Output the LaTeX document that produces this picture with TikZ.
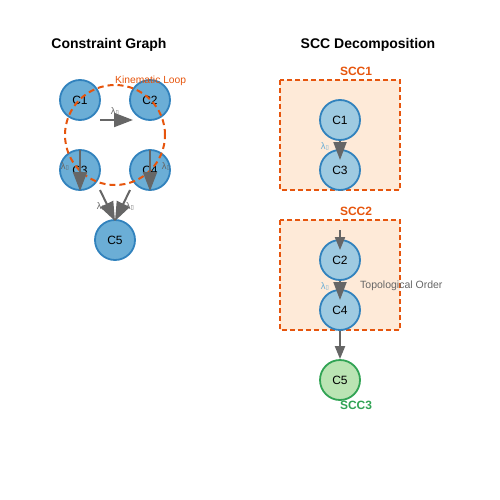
\documentclass[tikz,border=0pt]{standalone}
\usepackage{fontspec}
\setmainfont{Liberation Sans}
\newfontfamily\symfont{DejaVu Sans}
\usetikzlibrary{arrows.meta,calc}
\definecolor{nodeA}{HTML}{6BAED6}
\definecolor{nodeB}{HTML}{9ECAE1}
\definecolor{nodeStroke}{HTML}{3182BD}
\definecolor{loopOr}{HTML}{E6550D}
\definecolor{boxFill}{HTML}{FEEAD8}
\definecolor{grnFill}{HTML}{BAE4B3}
\definecolor{grnStroke}{HTML}{31A354}
\definecolor{arrGray}{HTML}{666666}
\newcommand{\lam}{λ{\symfont\fontsize{6}{6}\selectfont ▯}}
\begin{document}
\begin{tikzpicture}[x=1pt,y=-1pt,
  cnode/.style={circle,minimum size=40pt,inner sep=0pt,line width=1.8pt,draw=nodeStroke,font=\fontsize{12}{12}\selectfont},
  leftnode/.style={cnode,fill=nodeA},
  rightnode/.style={cnode,fill=nodeB},
  bigarr/.style={draw=arrGray,line width=2pt,-{Triangle[length=19pt,width=14pt]}},
  smallarr/.style={draw=arrGray,line width=2pt,-{Triangle[length=13pt,width=10pt]}},
  title/.style={font=\bfseries\fontsize{14}{14}\selectfont},
  lamlab/.style={font=\fontsize{9.5}{9.5}\selectfont,text=arrGray,inner sep=0pt},
  lamlabR/.style={font=\fontsize{9.5}{9.5}\selectfont,text=nodeA,inner sep=0pt},
  sccbox/.style={draw=loopOr,fill=boxFill,dashed,dash pattern=on 5pt off 3pt,line width=1.8pt},
  scclab/.style={font=\bfseries\fontsize{12}{12}\selectfont,text=loopOr}]
\useasboundingbox (0,0) rectangle (500,500);
% Left
\node[title] (t1) at (109,45) {Constraint Graph};
\node[leftnode] (C1) at (80,100) {C1};
\node[leftnode] (C2) at (150,100) {C2};
\node[leftnode] (C3) at (80,170) {C3};
\node[leftnode] (C4) at (150,170) {C4};
\node[leftnode] (C5) at (115,240) {C5};
\node[circle,minimum size=100pt,inner sep=0pt,draw=loopOr,dashed,dash pattern=on 6pt off 4pt,line width=2pt] (loop) at (115,135) {};
\node[font=\fontsize{10.3}{10.3}\selectfont,text=loopOr,anchor=west,inner sep=0pt] (kl) at (115,81) {Kinematic Loop};
\coordinate (a1) at ($(C1)+(20,20)$);
\coordinate (a2) at ($(C2)+(-17,20)$);
\draw[bigarr] (a1) -- (a2);
\coordinate (b1) at ($(C1)+(0,50)$);
\coordinate (b2) at ($(C3)+(0,21)$);
\draw[bigarr] (b1) -- (b2);
\coordinate (c1) at ($(C2)+(0,50)$);
\coordinate (c2) at ($(C4)+(0,21)$);
\draw[bigarr] (c1) -- (c2);
\coordinate (d1) at ($(C3)+(20,20)$);
\coordinate (d2) at ($(C5)+(0,-19)$);
\draw[bigarr] (d1) -- (d2);
\coordinate (e1) at ($(C4)+(-20,20)$);
\draw[bigarr] (e1) -- (d2);
\node[lamlab] (l1) at (115,111) {\lam};
\node[lamlab] (l2) at (65,166) {\lam};
\node[lamlab] (l3) at (166,166) {\lam};
\node[lamlab] (l4) at (101,206) {\lam};
\node[lamlab] (l5) at (130,206) {\lam};
% Right
\node[title] (t2) at (368,45) {SCC Decomposition};
\draw[sccbox] (280,80) rectangle (400,190);
\node[scclab] (s1) at (356,71) {SCC1};
\draw[sccbox] (280,220) rectangle (400,330);
\node[scclab] (s2) at (356,211) {SCC2};
\node[rightnode] (R1) at (340,120) {C1};
\node[rightnode] (R3) at (340,170) {C3};
\node[rightnode] (R2) at (340,260) {C2};
\node[rightnode] (R4) at (340,310) {C4};
\node[cnode,fill=grnFill,draw=grnStroke] (R5) at (340,380) {C5};
\node[font=\bfseries\fontsize{12}{12}\selectfont,text=grnStroke] (s3) at (356,405) {SCC3};
\draw[bigarr,-{Triangle[length=18pt,width=13pt]}] (R1) -- ($(R3)+(0,-10)$);
\coordinate (in2) at (340,230);
\draw[smallarr] (in2) -- ($(R2)+(0,-10)$);
\draw[bigarr,-{Triangle[length=18pt,width=13pt]}] (R2) -- ($(R4)+(0,-10)$);
\draw[smallarr] (R4) -- (R5);
\node[lamlabR] (r1) at (325,146) {\lam};
\node[lamlabR] (r2) at (325,286) {\lam};
\node[font=\fontsize{10.5}{10.5}\selectfont,text=arrGray,anchor=west,inner sep=0pt] (topo) at (360,286) {Topological Order};
\end{tikzpicture}
\end{document}
